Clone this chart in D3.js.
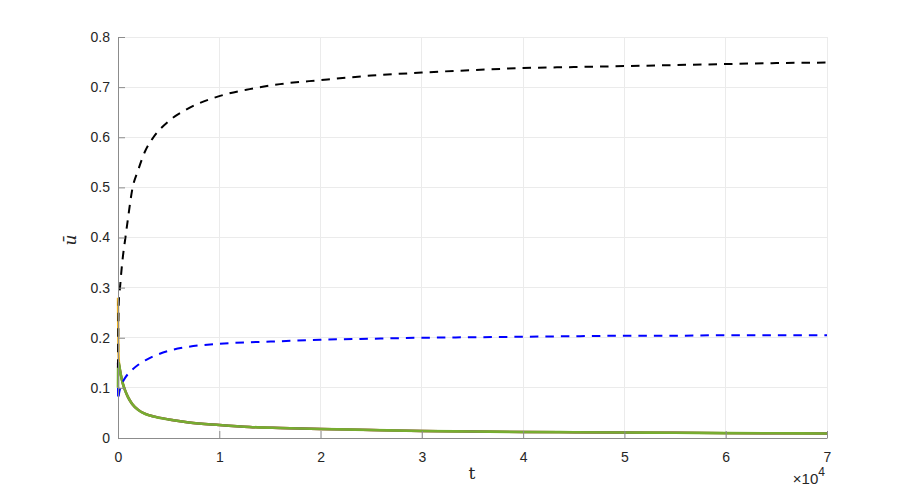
<!DOCTYPE html>
<html>
<head>
<meta charset="utf-8">
<script src="https://cdn.jsdelivr.net/npm/d3@7"></script>
<style>
html,body{margin:0;padding:0;background:#fff;}
svg{display:block;}
</style>
</head>
<body>
<svg id="chart" width="913" height="493"></svg>
<script>
// ---- data ----
const tValues = [0, 20, 50, 100, 200, 300, 500, 700, 1000, 1400, 2000, 2700, 3500, 5000, 7000, 10000, 13000, 16000, 20000, 25000, 30000, 35000, 40000, 45000, 50000, 55000, 60000, 65000, 70000];
const blackDashed = [0.14, 0.20, 0.25, 0.28, 0.30, 0.325, 0.365, 0.395, 0.44, 0.495, 0.535, 0.573, 0.60, 0.632, 0.658, 0.682, 0.696, 0.706, 0.714, 0.723, 0.729, 0.734, 0.738, 0.740, 0.742, 0.744, 0.746, 0.748, 0.749];
const blueDashed = [0.10, 0.076, 0.08, 0.088, 0.098, 0.104, 0.113, 0.12, 0.128, 0.136, 0.146, 0.155, 0.163, 0.174, 0.182, 0.188, 0.191, 0.193, 0.196, 0.198, 0.200, 0.201, 0.202, 0.203, 0.204, 0.204, 0.205, 0.205, 0.205];
const greenSolid = [0.10, 0.15, 0.15, 0.148, 0.135, 0.124, 0.107, 0.095, 0.081, 0.068, 0.056, 0.048, 0.043, 0.037, 0.031, 0.026, 0.022, 0.020, 0.018, 0.016, 0.014, 0.013, 0.012, 0.0115, 0.011, 0.0105, 0.0098, 0.0094, 0.009];
const yellowSolid = [0.28, 0.22, 0.17, 0.15, 0.135, 0.124, 0.107, 0.095, 0.081, 0.068, 0.056, 0.048, 0.043, 0.037, 0.031, 0.026, 0.022, 0.020, 0.018, 0.016, 0.014, 0.013, 0.012, 0.0115, 0.011, 0.0105, 0.0098, 0.0094, 0.009];
const purpleSolid = [0.15, 0.13, 0.14, 0.146, 0.135, 0.124, 0.107, 0.095, 0.081, 0.068, 0.056, 0.048, 0.043, 0.037, 0.031, 0.026, 0.022, 0.020, 0.018, 0.016, 0.014, 0.013, 0.012, 0.0115, 0.011, 0.0105, 0.0098, 0.0094, 0.009];
const xTicks = [0, 10000, 20000, 30000, 40000, 50000, 60000, 70000];
const xTickLabels = ["0", "1", "2", "3", "4", "5", "6", "7"];
const yTicks = [0, 0.1, 0.2, 0.3, 0.4, 0.5, 0.6, 0.7, 0.8];
const yTickLabels = ["0", "0.1", "0.2", "0.3", "0.4", "0.5", "0.6", "0.7", "0.8"];

// ---- layout ----
const svg = d3.select("#chart");
const L = 118, R = 827, T = 37, B = 438;
const x = d3.scaleLinear().domain([0, 70000]).range([L, R]);
const y = d3.scaleLinear().domain([0, 0.8]).range([B, T]);
const textColor = "#262626";
const axisColor = "#8c8c8c";
const font = "'Liberation Sans', Arial, Helvetica, sans-serif";

// grid
const grid = svg.append("g");
grid.selectAll("line.gx").data(xTicks).enter().append("line")
  .attr("x1", d => x(d)).attr("x2", d => x(d)).attr("y1", T).attr("y2", B)
  .attr("stroke", "#ebebeb").attr("stroke-width", 1).attr("shape-rendering", "crispEdges");
grid.selectAll("line.gy").data(yTicks).enter().append("line")
  .attr("x1", L).attr("x2", R).attr("y1", d => y(d)).attr("y2", d => y(d))
  .attr("stroke", "#ebebeb").attr("stroke-width", 1).attr("shape-rendering", "crispEdges");

// lines
const series = [
  {v: yellowSolid, color: "#EDB120", w: 2.4, dash: null},
  {v: purpleSolid, color: "#7E2F8E", w: 2.4, dash: null},
  {v: greenSolid, color: "#77AC30", w: 2.6, dash: null},
  {v: blueDashed, color: "#0000ff", w: 2, dash: "8.5,7"},
  {v: blackDashed, color: "#000000", w: 2, dash: "8.5,7"}
];
const lineGen = d3.line().x(d => x(d[0])).y(d => y(d[1])).curve(d3.curveMonotoneX);
series.forEach(s => {
  const pts = tValues.map((t, i) => [t, s.v[i]]);
  svg.append("path").attr("d", lineGen(pts))
    .attr("fill", "none").attr("stroke", s.color).attr("stroke-width", s.w)
    .attr("stroke-dasharray", s.dash).attr("stroke-linejoin", "round");
});

// axes
const xAxis = d3.axisBottom(x).tickValues(xTicks).tickFormat((d, i) => xTickLabels[i])
  .tickSizeInner(-7).tickSizeOuter(0).tickPadding(14);
const gx = svg.append("g").attr("transform", `translate(0,${B})`).call(xAxis);
const yAxis = d3.axisLeft(y).tickValues(yTicks).tickFormat((d, i) => yTickLabels[i])
  .tickSizeInner(-7).tickSizeOuter(0).tickPadding(8);
const gy = svg.append("g").attr("transform", `translate(${L},0)`).call(yAxis);
[gx, gy].forEach(g => {
  g.select(".domain").attr("stroke", axisColor).attr("stroke-width", 1);
  g.selectAll(".tick line").attr("stroke", axisColor);
  g.selectAll(".tick text").attr("fill", textColor).style("font-family", font).style("font-size", "14px");
});

// labels
svg.append("text").attr("x", 472).attr("y", 479).attr("text-anchor", "middle")
  .style("font-family", "'DejaVu Serif', 'Liberation Serif', serif").style("font-size", "17px")
  .attr("fill", textColor).text("t");
svg.append("text").attr("transform", "translate(76,240) rotate(-90)").attr("text-anchor", "middle")
  .style("font-family", "'DejaVu Serif', 'Liberation Serif', serif").style("font-style", "italic").style("font-size", "17px")
  .attr("fill", textColor).text("ū");
const ex = svg.append("text").attr("x", 825).attr("y", 484).attr("text-anchor", "end")
  .style("font-family", font).style("font-size", "15px").attr("fill", textColor);
ex.append("tspan").text("×10");
ex.append("tspan").attr("dy", -8).style("font-size", "12px").text("4");
</script>
</body>
</html>
